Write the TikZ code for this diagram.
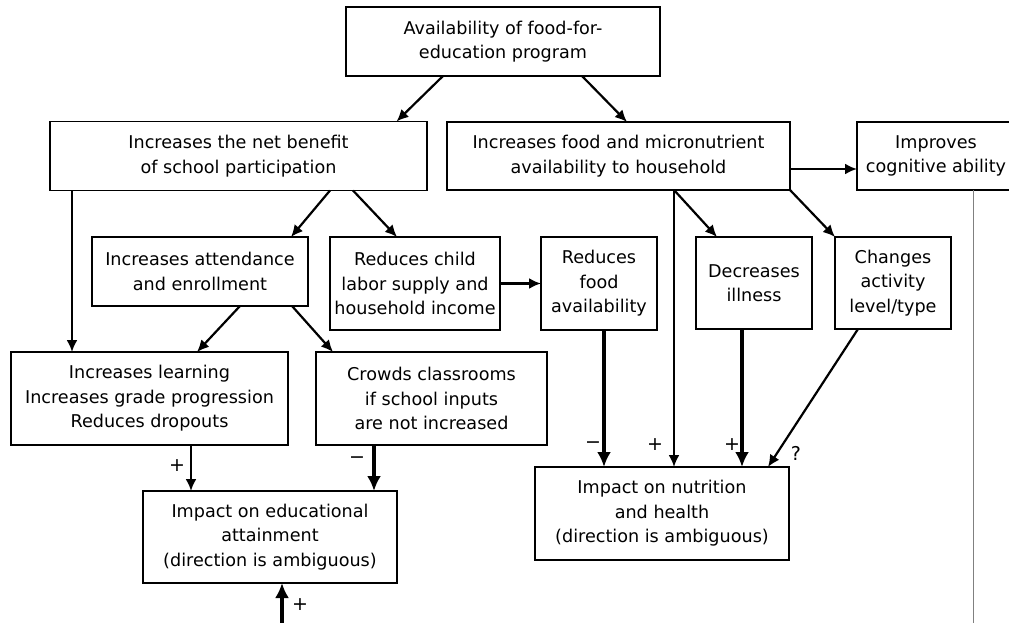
\documentclass[tikz,border=0pt]{standalone}
\usepackage{fontspec}
\setmainfont{DejaVu Sans}
\usetikzlibrary{arrows.meta,positioning}

\begin{document}
\begin{tikzpicture}[x=1pt, y=-1pt,
    box/.style={draw, rectangle, line width=1.6pt, inner sep=0pt, outer sep=0pt, align=center, font=\fontsize{17.6}{24.5}\selectfont},
    link/.style={-{Latex[length=12pt,width=11pt]}, line width=2.2pt},
    heavy/.style={-{Latex[length=15pt,width=14pt]}, line width=4pt},
    sign/.style={font=\fontsize{19}{20}\selectfont}]
    \useasboundingbox (0,0) rectangle (1009,623);
    \node[box, minimum width=314pt, minimum height=69pt] (avail) at (503,41.5) {Availability of food-for-\\education program};
    \node[box, minimum width=377pt, minimum height=69pt] (benefit) at (238.5,156) {Increases the net benefit\\of school participation};
    \node[box, minimum width=343pt, minimum height=68pt] (food) at (618.5,156) {Increases food and micronutrient\\availability to household};
    \node[box, minimum width=158pt, minimum height=68pt] (cognit) at (936,156) {Improves\\cognitive ability};
    \node[box, minimum width=216pt, minimum height=69pt] (attend) at (200,271.5) {Increases attendance\\and enrollment};
    \node[box, minimum width=170pt, minimum height=93pt] (labor) at (415,283.5) {Reduces child\\labor supply and\\household income};
    \node[box, minimum width=116pt, minimum height=93pt] (lessfood) at (599,283.5) {Reduces\\food\\availability};
    \node[box, minimum width=116pt, minimum height=92pt] (illness) at (754,283) {Decreases\\illness};
    \node[box, minimum width=116pt, minimum height=92pt] (activity) at (893,283) {Changes\\activity\\level/type};
    \node[box, minimum width=277pt, minimum height=93pt] (learning) at (149.5,398.5) {Increases learning\\Increases grade progression\\Reduces dropouts};
    \node[box, minimum width=231pt, minimum height=93pt] (crowds) at (431.5,398.5) {Crowds classrooms\\if school inputs\\are not increased};
    \node[box, minimum width=254pt, minimum height=92pt] (educ) at (270,537) {Impact on educational\\attainment\\(direction is ambiguous)};
    \node[box, minimum width=254pt, minimum height=93pt] (health) at (662,513.5) {Impact on nutrition\\and health\\(direction is ambiguous)};
    \coordinate (below) at (282,623);
    \coordinate (cogend) at (973,623);
    % top level
    \draw[link] ([xshift=-60pt]avail.south) -- ([xshift=158pt]benefit.north);
    \draw[link] ([xshift=79pt]avail.south) -- ([xshift=8.5pt]food.north);
    \draw[link] ([yshift=-13pt]food.east) -- ([yshift=-13pt]cognit.west);
    \draw[gray, line width=1pt] ([xshift=37pt]cognit.south) -- (cogend);
    % school side
    \draw[link] ([xshift=91.5pt]benefit.south) -- ([xshift=91pt]attend.north);
    \draw[link] ([xshift=114.5pt]benefit.south) -- ([xshift=-18pt]labor.north);
    \draw[link] ([xshift=-166.5pt]benefit.south) -- ([xshift=-77.5pt]learning.north);
    \draw[link] ([xshift=40pt]attend.south) -- ([xshift=47.5pt]learning.north);
    \draw[link] ([xshift=92pt]attend.south) -- ([xshift=-98.5pt]crowds.north);
    \draw[link] (labor.east) -- (lessfood.west);
    \draw[link] ([xshift=41.5pt]learning.south) -- ([xshift=-79pt]educ.north);
    \draw[heavy] ([xshift=-57.5pt]crowds.south) -- ([xshift=104pt]educ.north);
    \draw[heavy] (below) -- ([xshift=12pt]educ.south);
    % household side
    \draw[link] ([xshift=55.5pt]food.south) -- ([xshift=12pt]health.north);
    \draw[link] ([xshift=55.5pt]food.south) -- ([xshift=-37pt]illness.north);
    \draw[link] (food.south east) -- (activity.north west);
    \draw[heavy] ([xshift=5pt]lessfood.south) -- ([xshift=-58pt]health.north);
    \draw[heavy] ([xshift=-12pt]illness.south) -- ([xshift=80pt]health.north);
    \draw[link] ([xshift=-35pt]activity.south) -- ([xshift=106pt]health.north);
    % signs
    \node[sign] (s1) at (177,466) {+};
    \node[sign] (s2) at (357,460) {−};
    \node[sign] (s3) at (300,605) {+};
    \node[sign] (s4) at (593,445) {−};
    \node[sign] (s5) at (655,445) {+};
    \node[sign] (s6) at (732,445) {+};
    \node[sign] (s7) at (796,453) {?};
\end{tikzpicture}
\end{document}
